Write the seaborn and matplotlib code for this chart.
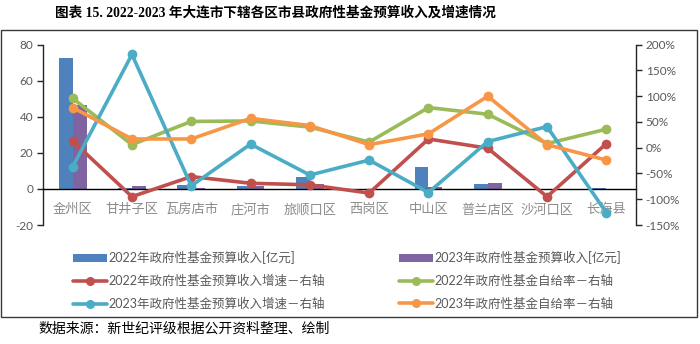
import numpy as np
import pandas as pd
import matplotlib
matplotlib.use("Agg")
import matplotlib.pyplot as plt
from matplotlib.patches import Rectangle, Patch
from matplotlib.lines import Line2D
import seaborn as sns

# ---------------- data ----------------
categories = ['金州区', '甘井子区', '瓦房店市', '庄河市', '旅顺口区',
              '西岗区', '中山区', '普兰店区', '沙河口区', '长海县']
rev_2022 = [72.5, 0.3, 2.0, 1.8, 6.4, 0.2, 12.0, 2.6, 0.2, 0.3]     # 亿元
rev_2023 = [46.5, 1.6, 0.6, 1.6, 2.8, 0.2, 1.3, 3.1, 0.2, 0.2]      # 亿元
growth_2022 = [13, -95, -56, -69, -72, -88, 17, -1, -95, 8]         # %
self_2022 = [96, 6, 51, 52, 40, 11, 78, 65, 8, 36]                  # %
growth_2023 = [-37, 181, -74, 7, -53, -24, -87, 12, 41, -126]       # %
self_2023 = [78, 17, 17, 57, 43, 6, 27, 100, 6, -24]                # %

bar_names = ['2022年政府性基金预算收入[亿元]', '2023年政府性基金预算收入[亿元]']
line_names = ['2022年政府性基金预算收入增速－右轴', '2022年政府性基金自给率－右轴',
              '2023年政府性基金预算收入增速－右轴', '2023年政府性基金自给率－右轴']

left_ticks = [-20, 0, 20, 40, 60, 80]
right_ticks = [-150, -100, -50, 0, 50, 100, 150, 200]
title = '图表 15. 2022-2023 年大连市下辖各区市县政府性基金预算收入及增速情况'
source = '数据来源：新世纪评级根据公开资料整理、绘制'

# ---------------- style ----------------
BLUE, PURPLE = '#4F81BD', '#8064A2'
RED, GREEN, CYAN, ORANGE = '#C0504D', '#9BBB59', '#4BACC6', '#F79646'
TXT = '#595959'

sns.set_style('white')
plt.rcParams['font.family'] = ['Lato', 'Noto Sans CJK SC', 'DejaVu Sans']
plt.rcParams['axes.unicode_minus'] = False

df_bars = pd.DataFrame({
    '区县': categories * 2,
    '值': rev_2022 + rev_2023,
    '序列': [bar_names[0]] * len(categories) + [bar_names[1]] * len(categories),
})
pos = np.arange(len(categories))
df_lines = pd.DataFrame({
    'pos': np.concatenate([pos] * 4),
    '值': growth_2022 + self_2022 + growth_2023 + self_2023,
    '序列': sum([[n] * len(categories) for n in line_names], []),
})

fig = plt.figure(figsize=(7.0, 3.44), dpi=100)
ax = fig.add_axes([43 / 700, 1 - 225 / 344, (636 - 43) / 700, (225 - 44.7) / 344])

sns.barplot(data=df_bars, x='区县', y='值', hue='序列', order=categories,
            hue_order=bar_names, palette=[BLUE, PURPLE], width=0.47,
            saturation=1, legend=False, ax=ax, linewidth=0)
ax.set_ylim(-20, 80)
ax.set_yticks(left_ticks)
ax.set_xlim(-0.5, len(categories) - 0.5)
ax.set_xlabel('')
ax.set_ylabel('')

ax2 = ax.twinx()
sns.lineplot(data=df_lines, x='pos', y='值', hue='序列', hue_order=line_names,
             palette=[RED, GREEN, CYAN, ORANGE], marker='o', markersize=7,
             markeredgewidth=0, linewidth=2.6, legend=False, ax=ax2)
ax2.set_ylim(-150, 200)
ax2.set_yticks(right_ticks)
ax2.set_yticklabels([f'{t}%' for t in right_ticks])
ax2.set_xlim(-0.5, len(categories) - 0.5)
ax2.set_xlabel('')
ax2.set_ylabel('')

# spines
for s in ['top', 'right']:
    ax.spines[s].set_visible(False)
ax.spines['bottom'].set_position(('data', 0))
ax.spines['bottom'].set_color('#000000')
ax.spines['bottom'].set_linewidth(1.0)
ax.spines['left'].set_color('#262626')
ax.spines['left'].set_linewidth(1.0)
for s in ['top', 'left', 'bottom']:
    ax2.spines[s].set_visible(False)
ax2.spines['right'].set_color('#262626')
ax2.spines['right'].set_linewidth(1.0)

ax.tick_params(axis='x', length=0, pad=10, labelsize=9.5, labelcolor='#8C8C8C')
ax.tick_params(axis='y', direction='out', length=4, width=1, color='#262626',
               labelsize=8.5, labelcolor=TXT, pad=3, left=True)
ax2.tick_params(axis='y', direction='out', length=4, width=1, color='#262626',
                labelsize=8.5, labelcolor=TXT, pad=3, right=True)
ax2.tick_params(axis='x', bottom=False, labelbottom=False)

# legend
handles = [
    Patch(facecolor=BLUE, edgecolor='none'),
    Line2D([], [], color=RED, lw=2.6, marker='o', ms=6.5, mew=0),
    Line2D([], [], color=CYAN, lw=2.6, marker='o', ms=6.5, mew=0),
    Patch(facecolor=PURPLE, edgecolor='none'),
    Line2D([], [], color=GREEN, lw=2.6, marker='o', ms=6.5, mew=0),
    Line2D([], [], color=ORANGE, lw=2.6, marker='o', ms=6.5, mew=0),
]
labels = [bar_names[0], line_names[0], line_names[2],
          bar_names[1], line_names[1], line_names[3]]
leg = fig.legend(handles, labels, ncol=2, loc='upper left',
                 bbox_to_anchor=(73 / 700, 1 - 251 / 344), frameon=False,
                 fontsize=9, handlelength=2.7, handleheight=0.6,
                 handletextpad=0.15, columnspacing=5.9, labelspacing=0.85,
                 borderpad=0, borderaxespad=0)
for t in leg.get_texts():
    t.set_color(TXT)

# outer frame
fig.patches.append(Rectangle((1 / 700, 1 - 317 / 344), 696 / 700, (317 - 29.5) / 344,
                             transform=fig.transFigure, fill=False,
                             edgecolor='#3A3A3A', linewidth=1.0))

fig.text(55 / 700, 1 - 13 / 344, title, ha='left', va='center', fontsize=9.8,
         fontweight='bold', color='#000000',
         family=['Liberation Serif', 'Noto Sans CJK SC'])
fig.text(38 / 700, 1 - 329 / 344, source, ha='left', va='center', fontsize=10,
         color='#000000', family=['Noto Sans CJK SC', 'DejaVu Sans'])

fig.savefig('out.png', dpi=100)
